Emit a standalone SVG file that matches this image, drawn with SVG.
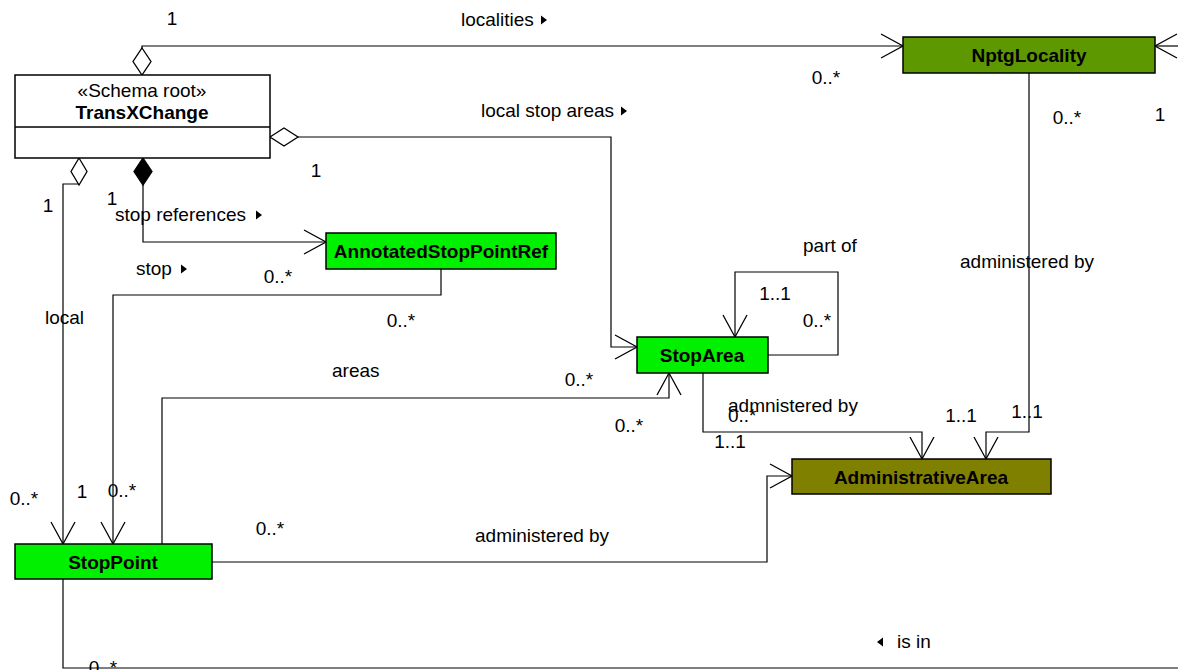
<svg xmlns="http://www.w3.org/2000/svg" width="1178" height="670" viewBox="0 0 1178 670">
  <style>
    text { font-family: "Liberation Sans", Arial, sans-serif; font-size: 19px; fill: #000; }
    .b { font-weight: bold; }
    .m { text-anchor: middle; }
    .box { stroke: #000; stroke-width: 1.5; }
    .ln { fill: none; stroke: #000; stroke-width: 1.2; }
    .arr { fill: none; stroke: #000; stroke-width: 1.3; }
    .tri { fill: #000; }
  </style>

  <!-- connectors -->
  <g id="connectors">
    <!-- localities -->
    <path class="ln" d="M142,48 V46 H903"/>
    <path class="arr" d="M881,34 L903,46 L881,58"/>
    <!-- local stop areas -->
    <path class="ln" d="M298,137 H611 V347 H637"/>
    <path class="arr" d="M615,335 L637,347 L615,359"/>
    <!-- local -->
    <path class="ln" d="M79,184 H63 V544"/>
    <path class="arr" d="M51,522 L63,544 L75,522"/>
    <!-- stop references -->
    <path class="ln" d="M143,185 V242 H326"/>
    <path class="arr" d="M304,230 L326,242 L304,254"/>
    <!-- stop -->
    <path class="ln" d="M441,269 V295 H113 V544"/>
    <path class="arr" d="M101,522 L113,544 L125,522"/>
    <!-- areas -->
    <path class="ln" d="M162,544 V398 H669 V373"/>
    <path class="arr" d="M657,395 L669,373 L681,395"/>
    <!-- part of -->
    <path class="ln" d="M768,355 H838 V272 H735 V337"/>
    <path class="arr" d="M723,315 L735,337 L747,315"/>
    <!-- StopArea administered by -->
    <path class="ln" d="M703,373 V432 H922 V459"/>
    <path class="arr" d="M910,437 L922,459 L934,437"/>
    <!-- NptgLocality administered by -->
    <path class="ln" d="M1029,73 V432 H986 V459"/>
    <path class="arr" d="M974,437 L986,459 L998,437"/>
    <!-- StopPoint administered by -->
    <path class="ln" d="M212,562 H767 V476 H792"/>
    <path class="arr" d="M770,464 L792,476 L770,488"/>
    <!-- is in -->
    <path class="ln" d="M63,579 V668 H1178"/>
    <path class="ln" d="M1178,46 H1155"/>
    <path class="arr" d="M1177,34 L1155,46 L1177,58"/>

    <!-- aggregation / composition ends -->
    <polygon points="142,48 151,61.5 142,75 133,61.5" fill="#fff" stroke="#000" stroke-width="1.3"/>
    <polygon points="270,137 284,128 298,137 284,146" fill="#fff" stroke="#000" stroke-width="1.3"/>
    <polygon points="79,158 87,171.5 79,185 71,171.5" fill="#fff" stroke="#000" stroke-width="1.3"/>
    <polygon points="143,158 152,171.5 143,185 134,171.5" fill="#000" stroke="#000" stroke-width="1.3"/>

    <!-- role labels and multiplicities -->
    <text class="m" x="172" y="25">1</text>
    <text x="461" y="26">localities</text>
    <polygon class="tri" points="541,15.5 547,20 541,24.5"/>
    <text class="m" x="826" y="84">0..*</text>

    <text x="481" y="117">local stop areas</text>
    <polygon class="tri" points="621,106.5 627,111 621,115.5"/>
    <text class="m" x="316" y="177">1</text>

    <text class="m" x="48" y="212">1</text>
    <text class="m" x="112" y="205">1</text>
    <text x="115" y="221">stop references</text>
    <polygon class="tri" points="256,210.5 262,215 256,219.5"/>

    <text x="136" y="275">stop</text>
    <polygon class="tri" points="181,264.5 187,269 181,273.5"/>
    <text class="m" x="278" y="283">0..*</text>
    <text class="m" x="401" y="327">0..*</text>
    <text x="45" y="324">local</text>

    <text class="m" x="1067" y="124">0..*</text>
    <text class="m" x="1160" y="121">1</text>
    <text x="960" y="268">administered by</text>

    <text x="803" y="252">part of</text>
    <text class="m" x="775" y="300">1..1</text>
    <text class="m" x="817" y="327">0..*</text>

    <text x="332" y="377">areas</text>
    <text class="m" x="579" y="386">0..*</text>
    <text class="m" x="629" y="432">0..*</text>

    <text x="728" y="422">0..*</text>
    <text x="728" y="412">admnistered by</text>
    <text class="m" x="730" y="448">1..1</text>
    <text class="m" x="961" y="422">1..1</text>
    <text class="m" x="1027" y="418">1..1</text>

    <text class="m" x="24" y="505">0..*</text>
    <text class="m" x="82" y="498">1</text>
    <text class="m" x="122" y="497">0..*</text>
    <text class="m" x="270" y="535">0..*</text>
    <text x="475" y="542">administered by</text>

    <polygon class="tri" points="883,637.5 877,642 883,646.5"/>
    <text x="897" y="648">is in</text>
    <text class="m" x="103" y="674">0..*</text>
  </g>

  <!-- classes -->
  <g id="TransXChange">
    <rect class="box" x="15" y="75" width="255" height="83" fill="#fff"/>
    <line x1="15" y1="127" x2="270" y2="127" stroke="#000" stroke-width="1.5"/>
    <text class="m" x="142" y="97">«Schema root»</text>
    <text class="m b" x="142" y="119">TransXChange</text>
  </g>
  <g id="NptgLocality">
    <rect class="box" x="903" y="37" width="252" height="36" fill="#5E9800"/>
    <text class="m b" x="1029" y="62">NptgLocality</text>
  </g>
  <g id="AnnotatedStopPointRef">
    <rect class="box" x="326" y="233" width="230" height="36" fill="#00F000"/>
    <text class="m b" x="441" y="258">AnnotatedStopPointRef</text>
  </g>
  <g id="StopArea">
    <rect class="box" x="637" y="337" width="131" height="36" fill="#00F000"/>
    <text class="m b" x="702" y="362">StopArea</text>
  </g>
  <g id="AdministrativeArea">
    <rect class="box" x="792" y="459" width="259" height="35" fill="#808000"/>
    <text class="m b" x="921" y="484">AdministrativeArea</text>
  </g>
  <g id="StopPoint">
    <rect class="box" x="15" y="544" width="197" height="35" fill="#00F000"/>
    <text class="m b" x="113" y="569">StopPoint</text>
  </g>
</svg>
